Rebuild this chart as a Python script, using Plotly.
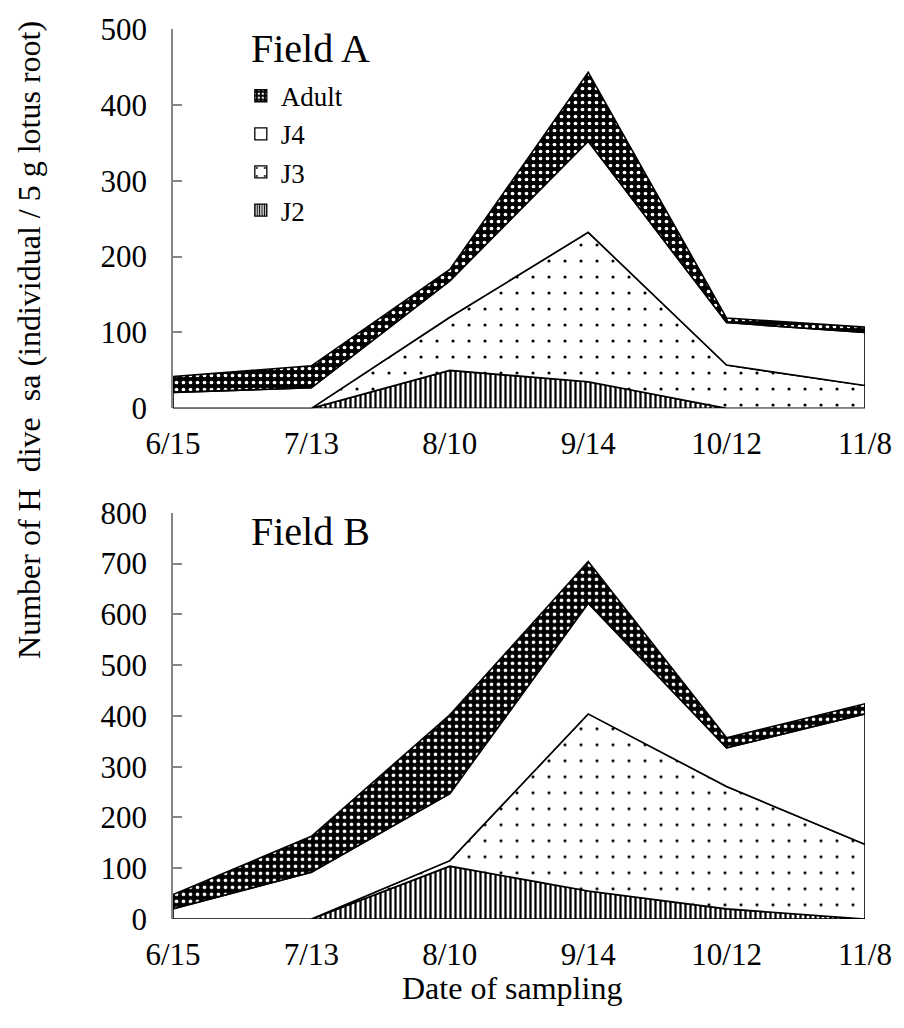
import plotly.graph_objects as go

dates = ["6/15", "7/13", "8/10", "9/14", "10/12", "11/8"]
stages = ["J2", "J3", "J4", "Adult"]

# Field A: individuals per stage
fieldA_J2 = [0, 0, 50, 35, 0, 0]
fieldA_J3 = [0, 0, 70, 197, 57, 30]
fieldA_J4 = [21, 27, 48, 120, 56, 70]
fieldA_Adult = [21, 29, 15, 91, 6, 7]

# Field B: individuals per stage
fieldB_J2 = [0, 0, 104, 55, 20, 0]
fieldB_J3 = [0, 0, 11, 349, 241, 147]
fieldB_J4 = [20, 92, 132, 218, 76, 257]
fieldB_Adult = [28, 71, 155, 82, 20, 20]

panel_titles = ["Field A", "Field B"]
y_ranges = [500, 800]
y_dticks = [100, 100]

SERIF = "Liberation Serif, Times New Roman, serif"

patterns = {
    "J2": dict(shape="|", bgcolor="white", fgcolor="black", size=5, solidity=0.45, fillmode="replace"),
    "J3": dict(shape=".", bgcolor="white", fgcolor="black", size=16, solidity=0.03, fillmode="replace"),
    "J4": None,
    "Adult": dict(shape=".", bgcolor="black", fgcolor="white", size=7, solidity=0.22, fillmode="replace"),
}
legend_patterns = {
    "J2": dict(shape="|", bgcolor="white", fgcolor="black", size=3, solidity=0.5, fillmode="replace"),
    "J3": dict(shape=".", bgcolor="white", fgcolor="black", size=14, solidity=0.05, fillmode="replace"),
    "J4": None,
    "Adult": dict(shape=".", bgcolor="black", fgcolor="white", size=5, solidity=0.25, fillmode="replace"),
}

fig = go.Figure()

x_idx = list(range(len(dates)))
fields = [
    [fieldA_J2, fieldA_J3, fieldA_J4, fieldA_Adult],
    [fieldB_J2, fieldB_J3, fieldB_J4, fieldB_Adult],
]
axes = [("x", "y"), ("x2", "y2")]

for (xa, ya), layers in zip(axes, fields):
    lower = [0] * len(dates)
    for stage, vals in zip(stages, layers):
        upper = [l + v for l, v in zip(lower, vals)]
        px = x_idx + x_idx[::-1] + [x_idx[0]]
        py = upper + lower[::-1] + [upper[0]]
        pat = patterns[stage]
        kw = dict(fillcolor="white")
        if pat is not None:
            kw["fillpattern"] = pat
        fig.add_trace(go.Scatter(
            x=px, y=py, xaxis=xa, yaxis=ya, mode="lines", fill="toself",
            line=dict(color="black", width=1.6), showlegend=False,
            hoverinfo="skip", **kw))
        lower = upper

# legend-only swatches
for stage in stages:
    pat = legend_patterns[stage]
    mk = dict(color="white", line=dict(color="black", width=1.3))
    if pat is not None:
        mk["pattern"] = pat
    fig.add_trace(go.Bar(x=[None], y=[None], name=stage, marker=mk, legendgroup=stage,
                         showlegend=True, xaxis="x", yaxis="y"))

common_x = dict(
    type="linear", range=[0, len(dates) - 1], tickvals=x_idx, ticktext=dates,
    showline=False, showgrid=False, zeroline=False, ticks="", ticklabelstandoff=14,
    tickfont=dict(family=SERIF, size=31, color="black"),
)
common_y = dict(
    showline=True, linecolor="#868686", linewidth=1.5, showgrid=False, zeroline=False,
    ticks="inside", ticklen=9, tickcolor="#868686", tickwidth=1.5,
    tickfont=dict(family=SERIF, size=31, color="black"), ticklabelstandoff=18,
)

fig.update_layout(
    width=904, height=1028,
    margin=dict(l=173, r=32, t=25, b=109),
    paper_bgcolor="white", plot_bgcolor="white",
    font=dict(family=SERIF, color="black"),
    xaxis=dict(domain=[0, 1], anchor="y", **common_x),
    yaxis=dict(domain=[0.5738, 1.0], anchor="x", range=[0, y_ranges[0]], dtick=y_dticks[0], **common_y),
    xaxis2=dict(domain=[0, 1], anchor="y2", **common_x),
    yaxis2=dict(domain=[0, 0.4564], anchor="x2", range=[0, y_ranges[1]], dtick=y_dticks[1], **common_y),
    showlegend=True,
    legend=dict(x=0.098, y=0.952, xanchor="left", yanchor="top", traceorder="reversed",
                font=dict(family=SERIF, size=27, color="black"), bgcolor="rgba(0,0,0,0)",
                itemwidth=30, tracegroupgap=0),
    annotations=[
        dict(text=panel_titles[0], xref="paper", yref="paper", x=0.11, y=0.9776, xanchor="left", yanchor="middle",
             showarrow=False, font=dict(family=SERIF, size=40, color="black")),
        dict(text=panel_titles[1], xref="paper", yref="paper", x=0.11, y=0.4351, xanchor="left", yanchor="middle",
             showarrow=False, font=dict(family=SERIF, size=40, color="black")),
        dict(text="Number of H\u00a0\u00a0dive\u00a0\u00a0sa (individual / 5 g lotus root)",
             xref="paper", yref="paper", x=-0.209, y=0.651, xanchor="center", yanchor="middle",
             textangle=-90, showarrow=False, font=dict(family=SERIF, size=32, color="black")),
        dict(text="Date of sampling", xref="paper", yref="paper", x=0.49, y=-0.0775,
             xanchor="center", yanchor="middle", showarrow=False,
             font=dict(family=SERIF, size=32, color="black")),
    ],
)

fig.write_html("out.html")
